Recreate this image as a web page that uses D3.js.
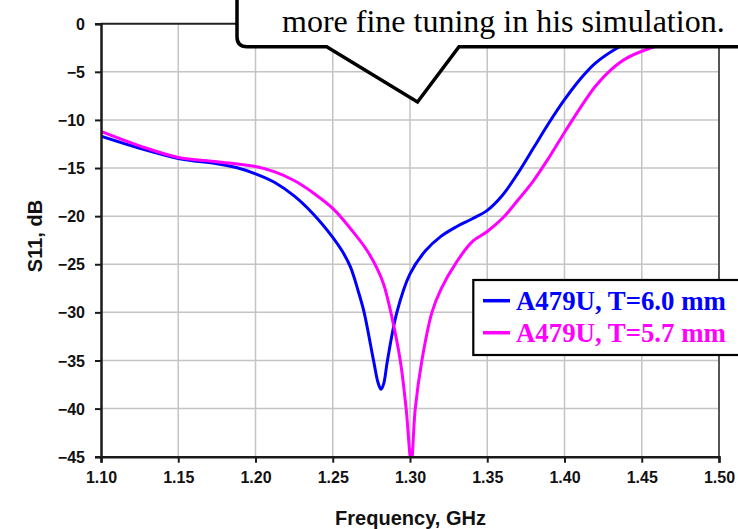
<!DOCTYPE html>
<html>
<head>
<meta charset="utf-8">
<script src="https://cdn.jsdelivr.net/npm/d3@7/dist/d3.min.js"></script>
<style>
  html, body { margin: 0; padding: 0; background: #fff; }
  svg { display: block; }
</style>
</head>
<body>
<svg id="chart" width="738" height="529"></svg>
<script>
// ---- data ----
const freqBlue = [1.100, 1.125, 1.150, 1.175, 1.1875, 1.200, 1.2125, 1.225, 1.2375, 1.250, 1.256, 1.2615, 1.2665, 1.2703, 1.2764, 1.2795, 1.2813, 1.2830, 1.2854, 1.2915, 1.300, 1.310, 1.320, 1.330, 1.340, 1.350, 1.360, 1.370, 1.380, 1.390, 1.400, 1.410, 1.420, 1.435, 1.450, 1.475, 1.500];
const s11Blue  = [-11.7, -12.95, -14.0, -14.55, -14.95, -15.6, -16.5, -17.9, -19.8, -22.2, -23.6, -25.3, -27.8, -30.0, -35.0, -37.4, -38.0, -37.4, -35.0, -30.0, -26.0, -23.6, -22.1, -21.1, -20.3, -19.4, -17.8, -15.5, -12.9, -10.3, -7.9, -5.8, -4.1, -2.45, -1.3, -0.5, -0.2];

const freqPink = [1.100, 1.125, 1.150, 1.175, 1.200, 1.2125, 1.225, 1.2375, 1.250, 1.265, 1.2723, 1.2786, 1.283, 1.2876, 1.2937, 1.2975, 1.3008, 1.3034, 1.3077, 1.3142, 1.320, 1.330, 1.340, 1.350, 1.360, 1.370, 1.380, 1.390, 1.400, 1.410, 1.420, 1.430, 1.440, 1.457, 1.475, 1.500];
const s11Pink  = [-11.2, -12.7, -13.9, -14.35, -14.85, -15.4, -16.3, -17.6, -19.2, -22.0, -23.6, -25.4, -27.1, -30.0, -35.0, -40.0, -45.6, -40.0, -35.0, -30.0, -27.6, -24.8, -22.7, -21.6, -20.2, -18.3, -16.3, -13.9, -11.3, -8.8, -6.5, -4.8, -3.6, -2.45, -1.6, -0.9];

const xTicks = [1.10, 1.15, 1.20, 1.25, 1.30, 1.35, 1.40, 1.45, 1.50];
const yTicks = [0, -5, -10, -15, -20, -25, -30, -35, -40, -45];
const seriesNames = ["A479U, T=6.0 mm", "A479U, T=5.7 mm"];
const seriesColors = ["#0000ff", "#ff00ff"];
const xTitle = "Frequency, GHz";
const yTitle = "S11, dB";
const calloutText = "more fine tuning in his simulation.";

// ---- layout ----
const svg = d3.select("#chart");
const x = d3.scaleLinear().domain([1.10, 1.50]).range([101, 719]);
const y = d3.scaleLinear().domain([-45, 0]).range([456.7, 23.7]);
const pLeft = x.range()[0], pRight = x.range()[1];
const pTop = y.range()[1], pBottom = y.range()[0];

svg.append("defs").append("clipPath").attr("id", "plotclip")
  .append("rect").attr("x", pLeft).attr("y", pTop).attr("width", pRight - pLeft).attr("height", pBottom - pTop + 1);

// gridlines
const grid = svg.append("g").attr("stroke", "#c4c4c4").attr("stroke-width", 1.5);
xTicks.slice(1, -1).forEach(v => {
  grid.append("line").attr("x1", x(v)).attr("x2", x(v)).attr("y1", pTop).attr("y2", pBottom);
});
yTicks.slice(1, -1).forEach(v => {
  grid.append("line").attr("x1", pLeft).attr("x2", pRight).attr("y1", y(v)).attr("y2", y(v));
});

// plot border top / right
svg.append("line").attr("x1", pLeft).attr("x2", pRight).attr("y1", pTop).attr("y2", pTop)
  .attr("stroke", "#222").attr("stroke-width", 2);
svg.append("line").attr("x1", pRight).attr("x2", pRight).attr("y1", pTop).attr("y2", pBottom)
  .attr("stroke", "#555").attr("stroke-width", 2);

// curves
const line = d3.line().x(d => x(d[0])).y(d => y(d[1])).curve(d3.curveCatmullRom.alpha(0.5));
const curves = svg.append("g").attr("clip-path", "url(#plotclip)");
curves.append("path").datum(d3.zip(freqBlue, s11Blue))
  .attr("d", line).attr("fill", "none").attr("stroke", seriesColors[0]).attr("stroke-width", 3);
curves.append("path").datum(d3.zip(freqPink, s11Pink))
  .attr("d", line).attr("fill", "none").attr("stroke", seriesColors[1]).attr("stroke-width", 3);

// axes
const xAxis = svg.append("g").attr("transform", `translate(0,${pBottom})`)
  .call(d3.axisBottom(x).tickValues(xTicks).tickFormat(d3.format(".2f")).tickSizeOuter(0).tickSize(6).tickPadding(9));
const yAxis = svg.append("g").attr("transform", `translate(${pLeft},0)`)
  .call(d3.axisLeft(y).tickValues(yTicks).tickFormat(d3.format("d")).tickSizeOuter(0).tickSize(6).tickPadding(10));
[xAxis, yAxis].forEach(a => {
  a.select(".domain").attr("stroke", "#1a1a1a").attr("stroke-width", 2.5);
  a.selectAll(".tick line").attr("stroke", "#1a1a1a").attr("stroke-width", 2);
  a.selectAll(".tick text").attr("font-family", "Liberation Sans, Arial, sans-serif")
    .attr("font-weight", "bold").attr("font-size", 16).attr("fill", "#111");
});
yAxis.selectAll(".tick text").attr("dy", "0.35em");

// axis titles
svg.append("text").attr("x", 410.5).attr("y", 525)
  .attr("text-anchor", "middle").attr("font-family", "Liberation Sans, Arial, sans-serif")
  .attr("font-weight", "bold").attr("font-size", 20).attr("fill", "#111").text(xTitle);
svg.append("text").attr("transform", "translate(42,236) rotate(-90)")
  .attr("text-anchor", "middle").attr("font-family", "Liberation Sans, Arial, sans-serif")
  .attr("font-weight", "bold").attr("font-size", 20).attr("fill", "#111").text(yTitle);

// legend
const lg = svg.append("g");
lg.append("rect").attr("x", 473.3).attr("y", 280).attr("width", 300).attr("height", 75)
  .attr("fill", "#fff").attr("stroke", "#000").attr("stroke-width", 2.2);
seriesNames.forEach((name, i) => {
  const ly = 300.7 + i * 32;
  lg.append("line").attr("x1", 483).attr("x2", 510).attr("y1", ly).attr("y2", ly)
    .attr("stroke", seriesColors[i]).attr("stroke-width", 3.5);
  lg.append("text").attr("x", 516).attr("y", ly + 9.5)
    .attr("font-family", "Liberation Serif, Times New Roman, serif").attr("font-weight", "bold")
    .attr("font-size", 26.8).attr("fill", seriesColors[i]).text(name);
});

// callout
const callout = d3.path();
callout.moveTo(237, -10);
callout.lineTo(237, 36.7);
callout.quadraticCurveTo(237, 46.7, 247, 46.7);
callout.lineTo(326.7, 46.7);
callout.lineTo(417.5, 102);
callout.lineTo(459, 46.7);
callout.lineTo(760, 46.7);
callout.lineTo(760, -10);
callout.closePath();
svg.append("path").attr("d", callout.toString()).attr("fill", "#fff")
  .attr("stroke", "#000").attr("stroke-width", 3.5).attr("stroke-linejoin", "miter");
svg.append("text").attr("x", 282).attr("y", 31.5)
  .attr("font-family", "Liberation Serif, Times New Roman, serif").attr("font-size", 32)
  .attr("fill", "#000").text(calloutText);
</script>
</body>
</html>
